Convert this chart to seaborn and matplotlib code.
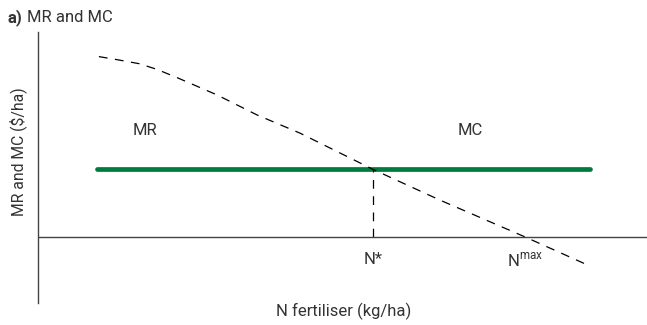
import matplotlib
matplotlib.use("Agg")
import matplotlib.pyplot as plt
import seaborn as sns
import pandas as pd

# data (abstract units)
n_rate = [10, 13, 16.7, 19.5, 22.8, 29.4, 36, 43, 55, 66, 80, 90.5]
mr_vals = [88, 86.5, 84.5, 81.8, 77.8, 69.3, 59.5, 50.7, 33, 18, 0, -14]
mc_x = [9.7, 90.6]
mc_vals = [33, 33]
n_star = 55
n_max = 80

sns.set_theme(style="white")
plt.rcParams['font.family'] = ['Roboto', 'DejaVu Sans']

df_mr = pd.DataFrame({"N": n_rate, "value": mr_vals})
df_mc = pd.DataFrame({"N": mc_x, "value": mc_vals})

fig = plt.figure(figsize=(6.47, 3.25), dpi=100)
ax = fig.add_axes([0.0587, 0.0677, 0.9413, 0.8338])

sns.lineplot(data=df_mc, x="N", y="value", color="#007a3d", linewidth=3.4,
             solid_capstyle="round", ax=ax)
sns.lineplot(data=df_mr, x="N", y="value", color="black", linewidth=0.9,
             ax=ax).lines[-1].set_dashes([7, 6])
ax.plot([n_star, n_star], [0, mc_vals[0]], color="black", linewidth=0.9, dashes=[7, 6])
ax.axhline(0, color="#444444", linewidth=1)

ax.set_xlim(0, 100)
ax.set_ylim(-32.2, 100)
for s in ["top", "right", "bottom"]:
    ax.spines[s].set_visible(False)
ax.spines["left"].set_color("#444444")
ax.spines["left"].set_linewidth(1)
ax.set_xticks([])
ax.set_yticks([])
ax.set_xlabel("N fertiliser (kg/ha)", fontsize=12, color="#333333")
ax.xaxis.set_label_coords(0.5016, 0.0)
ax.set_ylabel("MR and MC ($/ha)", fontsize=11.3, color="#333333")
ax.yaxis.set_label_coords(-0.018, 0.557)

txt = dict(fontsize=12, color="#333333", ha="center", va="center")
ax.text(17.5, 52, "MR", **txt)
ax.text(71, 52, "MC", **txt)
ax.text(n_star, -11, "N*", **txt)
ax.text(n_max, -11, "N$^{\\mathregular{max}}$", **txt)

fig.text(0.012, 0.945, "a)", fontsize=12, fontweight="bold", color="#333333", va="center")
fig.text(0.042, 0.945, "MR and MC", fontsize=12, color="#333333", va="center")

fig.savefig("out.png", dpi=100)
